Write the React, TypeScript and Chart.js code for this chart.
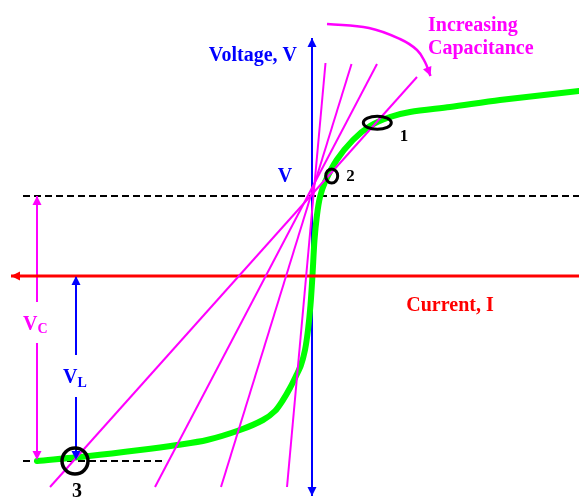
import { useEffect, useRef } from 'react';
import { Chart, registerables } from 'chart.js';

Chart.register(...registerables);

// Coordinate frame: x = current I, y = voltage V (arbitrary units, origin where the axes cross)
const X_MIN = -312;
const X_MAX = 267;
const Y_MIN = -221;
const Y_MAX = 276;

// Source I–V characteristic (green)
const curveCurrent = [-275, -223, -172, -135, -105, -72, -49, -37, -29, -22, -16, -11, -7, -4, -1.5, 0.5, 2.5, 5, 8, 13, 24.7, 41, 58, 78, 98, 138, 188, 267];
const curveVoltage = [-185, -180, -174, -169, -164, -154, -144, -135, -124, -112, -100, -89, -74, -54, -29, 1, 36, 61, 79, 94, 116, 136, 150, 159, 164, 169, 176, 185];

// Load lines (magenta) through the operating voltage V
const loadTopCurrent = [13.5, 39.5, 65, 105];
const loadTopVoltage = [213, 212, 212, 199];
const loadBottomCurrent = [-25, -91, -157, -262];
const loadBottomVoltage = [-211, -211, -211, -211];

// "Increasing capacitance" arc
const arcCurrent = [15, 57, 88, 105, 113, 118.5];
const arcVoltage = [252, 248, 237, 226, 214, 200];

// Reference levels
const operatingVoltage = 80; // V (upper dashed)
const lowVoltage = -185; // lower dashed
const dashStart = -289;
const lowDashEnd = -147;
const vcCurrent = -275;
const vlCurrent = -236;
const vcGap = [-26, -67];
const vlGap = [-79, -121];
const vTop = 238;
const vBottom = -220;
const iLeft = -301;

// Operating points (rings) 1, 2, 3
const ringCurrent = [65.3, 19.7, -237];
const ringVoltage = [153.3, 100, -185];

// Text labels
const labelText = ['Voltage, V', 'V', 'Increasing', 'Capacitance', '1', '2', '3', 'Current, I'];
const labelCurrent = [-15, -27, 116, 116, 92, 38.5, -235, 138];
const labelVoltage = [220, 99, 250, 227, 139, 99, -216, -30];

const MAGENTA = '#ff00ff';
const BLUE = '#0000ff';
const RED = '#ff0000';
const GREEN = '#00ff00';
const BLACK = '#000000';
const SERIF = '"Liberation Serif", "DejaVu Serif", serif';

const labelStyle = [
  { color: BLUE, size: 20, align: 'right' },
  { color: BLUE, size: 20, align: 'center' },
  { color: MAGENTA, size: 20, align: 'left' },
  { color: MAGENTA, size: 20, align: 'left' },
  { color: BLACK, size: 17, align: 'center' },
  { color: BLACK, size: 17, align: 'center' },
  { color: BLACK, size: 20, align: 'center' },
  { color: RED, size: 20, align: 'center' },
];
const ringStyle = [
  { rx: 14, ry: 6.5, w: 3 },
  { rx: 6, ry: 7, w: 3 },
  { rx: 13, ry: 13, w: 3.5 },
];

const pts = (xs: number[], ys: number[]) => xs.map((x, i) => ({ x, y: ys[i] }));

const seg = (data: { x: number; y: number }[], color: string, width: number, extra: any = {}) => ({
  data,
  showLine: true,
  borderColor: color,
  backgroundColor: color,
  borderWidth: width,
  pointRadius: 0,
  pointHoverRadius: 0,
  fill: false,
  clip: false,
  tension: 0,
  ...extra,
});

const overlayPlugin = {
  id: 'overlay',
  afterDatasetsDraw(chart: any) {
    const ctx: CanvasRenderingContext2D = chart.ctx;
    const xs = chart.scales.x;
    const ys = chart.scales.y;
    const px = (v: number) => xs.getPixelForValue(v);
    const py = (v: number) => ys.getPixelForValue(v);

    const head = (tip: any, from: any, color: string) => {
      const a = Math.atan2(tip.y - from.y, tip.x - from.x);
      const len = 9;
      const hw = 4.5;
      const bx = tip.x - Math.cos(a) * len;
      const by = tip.y - Math.sin(a) * len;
      ctx.save();
      ctx.fillStyle = color;
      ctx.beginPath();
      ctx.moveTo(tip.x, tip.y);
      ctx.lineTo(bx + Math.sin(a) * hw, by - Math.cos(a) * hw);
      ctx.lineTo(bx - Math.sin(a) * hw, by + Math.cos(a) * hw);
      ctx.closePath();
      ctx.fill();
      ctx.restore();
    };

    chart.data.datasets.forEach((ds: any, i: number) => {
      if (!ds.arrow) return;
      const el = chart.getDatasetMeta(i).data;
      if (ds.arrow === 'end' || ds.arrow === 'both') head(el[el.length - 1], el[el.length - 2], ds.borderColor);
      if (ds.arrow === 'start' || ds.arrow === 'both') head(el[0], el[1], ds.borderColor);
    });

    // rings
    ringCurrent.forEach((c, i) => {
      const s = ringStyle[i];
      ctx.save();
      ctx.strokeStyle = BLACK;
      ctx.lineWidth = s.w;
      ctx.beginPath();
      ctx.ellipse(px(c), py(ringVoltage[i]), s.rx, s.ry, 0, 0, Math.PI * 2);
      ctx.stroke();
      ctx.restore();
    });

    // labels
    ctx.save();
    ctx.textBaseline = 'middle';
    labelText.forEach((t, i) => {
      const s = labelStyle[i];
      ctx.font = `bold ${s.size}px ${SERIF}`;
      ctx.fillStyle = s.color;
      ctx.textAlign = s.align as CanvasTextAlign;
      ctx.fillText(t, px(labelCurrent[i]), py(labelVoltage[i]));
    });

    // subscripted labels V_C and V_L
    const sub = (main: string, subText: string, x: number, y: number, color: string, drop: number) => {
      ctx.textAlign = 'left';
      ctx.fillStyle = color;
      ctx.font = `bold 20px ${SERIF}`;
      const X = px(x);
      const Y = py(y);
      ctx.fillText(main, X, Y);
      const w = ctx.measureText(main).width;
      ctx.font = `bold 14px ${SERIF}`;
      ctx.fillText(subText, X + w, Y + drop);
    };
    sub('V', 'C', -289, -49, MAGENTA, 4);
    sub('V', 'L', -249, -102, BLUE, 5);
    ctx.restore();
  },
};

export default function App() {
  const ref = useRef<HTMLCanvasElement | null>(null);

  useEffect(() => {
    if (!ref.current) return;
    const loadLines = loadTopCurrent.map((c, i) =>
      seg(pts([c, loadBottomCurrent[i]], [loadTopVoltage[i], loadBottomVoltage[i]]), MAGENTA, 2)
    );
    const datasets: any[] = [
      // index 0 is drawn last (on top)
      seg(pts(arcCurrent, arcVoltage), MAGENTA, 2.5, { tension: 0.4, arrow: 'end' }),
      ...loadLines,
      seg(pts([X_MAX, iLeft], [0, 0]), RED, 3, { arrow: 'end' }),
      seg(pts(curveCurrent, curveVoltage), GREEN, 6, { tension: 0.3, borderCapStyle: 'round', borderJoinStyle: 'round' }),
      seg(pts([0, 0], [vTop, vBottom]), BLUE, 2, { arrow: 'both' }),
      seg(pts([vcCurrent, vcCurrent], [vcGap[0], operatingVoltage]), MAGENTA, 2, { arrow: 'end' }),
      seg(pts([vcCurrent, vcCurrent], [vcGap[1], lowVoltage + 1]), MAGENTA, 2, { arrow: 'end' }),
      seg(pts([vlCurrent, vlCurrent], [vlGap[0], 0]), BLUE, 2, { arrow: 'end' }),
      seg(pts([vlCurrent, vlCurrent], [vlGap[1], lowVoltage + 1]), BLUE, 2, { arrow: 'end' }),
      seg(pts([dashStart, X_MAX], [operatingVoltage, operatingVoltage]), BLACK, 2, { borderDash: [7, 4] }),
      seg(pts([dashStart, lowDashEnd], [lowVoltage, lowVoltage]), BLACK, 2, { borderDash: [7, 4] }),
    ];

    const chart = new Chart(ref.current, {
      type: 'scatter',
      data: { datasets },
      options: {
        animation: false,
        responsive: false,
        maintainAspectRatio: false,
        devicePixelRatio: 1,
        events: [],
        layout: { padding: 0 },
        scales: {
          x: { type: 'linear', display: false, min: X_MIN, max: X_MAX },
          y: { type: 'linear', display: false, min: Y_MIN, max: Y_MAX },
        },
        plugins: { legend: { display: false }, tooltip: { enabled: false } },
      },
      plugins: [overlayPlugin],
    });
    return () => chart.destroy();
  }, []);

  return (
    <div style={{ position: 'fixed', left: 0, top: 0, width: 579, height: 497, background: '#fff' }}>
      <canvas ref={ref} width={579} height={497} style={{ display: 'block' }} />
    </div>
  );
}
